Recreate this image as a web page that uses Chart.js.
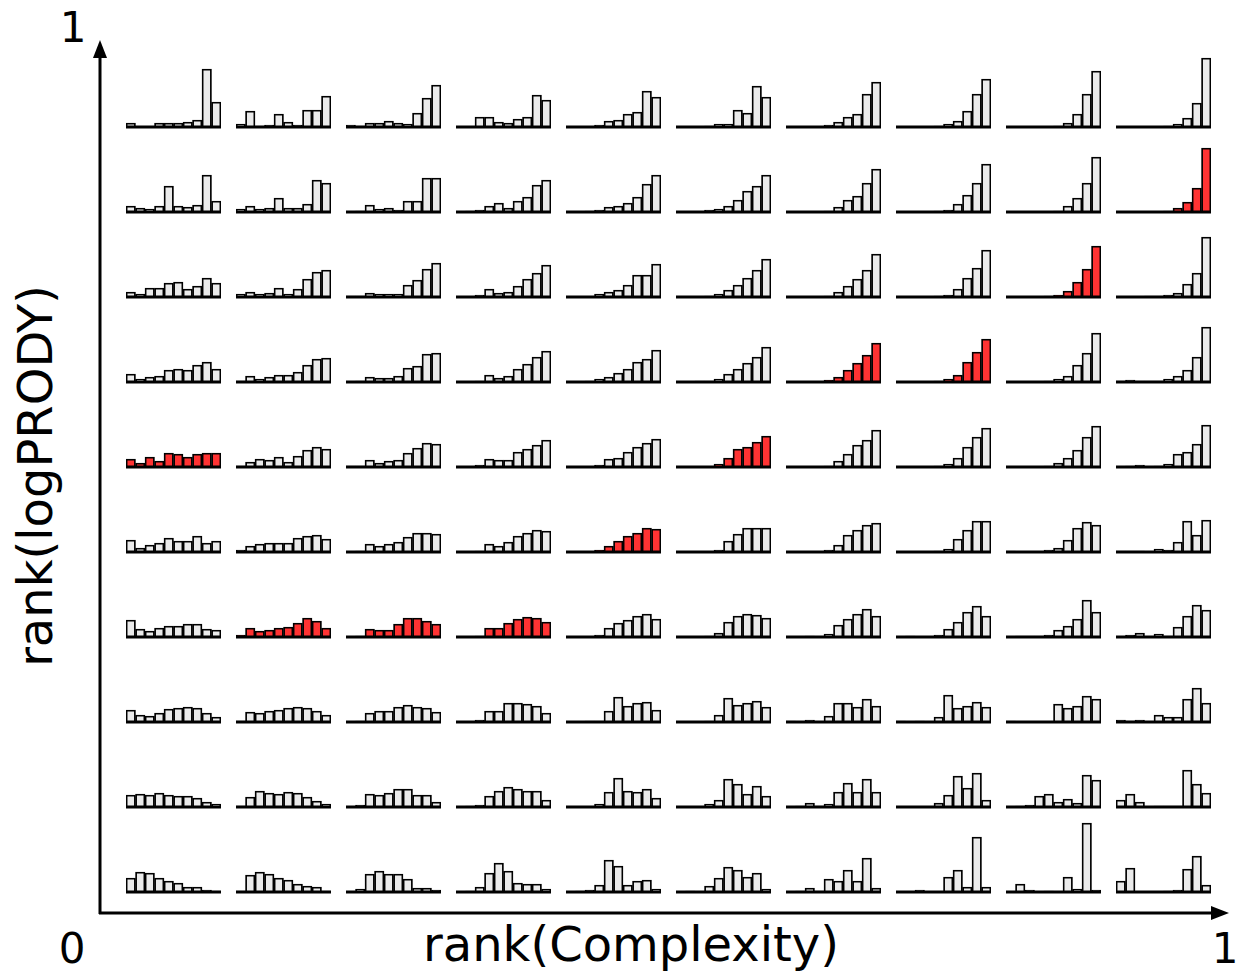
<!DOCTYPE html>
<html>
<head>
<meta charset="utf-8">
<script src="https://cdn.jsdelivr.net/npm/chart.js@4/dist/chart.umd.min.js"></script>
<style>
    html, body { margin: 0; padding: 0; background: #FFFFFF; }
    #page { position: relative; width: 1245px; height: 972px; overflow: hidden; }
    #axes { position: absolute; left: 0; top: 0; }
    .cell { position: absolute; width: 95px; height: 82px; }
</style>
</head>
<body>
<div id="page">
    <svg id="axes" width="1245" height="972" xmlns="http://www.w3.org/2000/svg">
        <line x1="100" y1="914" x2="100" y2="54" stroke="#000" stroke-width="3"/>
        <polygon points="100,40 93,58 107,58" fill="#000"/>
        <line x1="99" y1="913" x2="1214" y2="913" stroke="#000" stroke-width="3"/>
        <polygon points="1229,913 1211,906 1211,920" fill="#000"/>
        <g font-family="'DejaVu Sans', sans-serif" fill="#000">
            <text x="73" y="42" font-size="42" text-anchor="middle">1</text>
            <text x="72" y="963" font-size="42" text-anchor="middle">0</text>
            <text x="1225" y="963" font-size="42" text-anchor="middle">1</text>
            <text x="631" y="961" font-size="48" text-anchor="middle">rank(Complexity)</text>
            <text transform="translate(52,476) rotate(-90)" font-size="48" text-anchor="middle">rank(logPRODY)</text>
        </g>
    </svg>
</div>
<script>
const COLORS = {
    gray: "#EBEBEB",
    red: "#FF3333",
    edge: "#000000",
};

// histogram bins (10 per cell), 10 complexity bins per row
const BINS = ["1", "2", "3", "4", "5", "6", "7", "8", "9", "10"];

// rows listed top -> bottom (high rank(logPRODY) first)
const ROW_1 = [
    [4, 0, 0, 4, 4, 4, 5, 7, 58, 25],
    [3, 16, 1, 2, 13, 5, 2, 17, 17, 31],
    [2, 1, 4, 4, 6, 4, 3, 14, 29, 42],
    [0, 0, 10, 10, 5, 4, 8, 10, 32, 27],
    [0, 0, 0, 2, 6, 7, 13, 15, 36, 30],
    [0, 0, 0, 1, 3, 3, 17, 14, 41, 30],
    [0, 0, 0, 0, 2, 5, 10, 13, 33, 45],
    [0, 0, 0, 0, 1, 3, 6, 16, 33, 48],
    [0, 0, 0, 0, 0, 1, 4, 13, 33, 56],
    [0, 0, 0, 0, 0, 1, 3, 9, 24, 69],
];
const ROW_2 = [
    [6, 4, 3, 6, 26, 6, 5, 7, 37, 11],
    [3, 6, 3, 4, 14, 4, 4, 8, 32, 29],
    [0, 1, 7, 3, 4, 2, 11, 11, 34, 34],
    [0, 1, 2, 6, 9, 4, 11, 15, 27, 32],
    [0, 0, 1, 2, 5, 6, 9, 15, 28, 37],
    [0, 0, 0, 2, 3, 6, 12, 21, 26, 37],
    [0, 0, 0, 0, 1, 5, 12, 16, 29, 43],
    [0, 0, 0, 0, 1, 2, 8, 17, 29, 48],
    [0, 0, 0, 0, 0, 1, 6, 14, 29, 55],
    [0, 0, 0, 0, 0, 1, 4, 10, 24, 64],
];
const ROW_3 = [
    [5, 3, 9, 9, 14, 15, 8, 11, 19, 14],
    [3, 5, 3, 4, 9, 3, 8, 18, 25, 27],
    [1, 1, 4, 3, 3, 3, 12, 17, 28, 34],
    [0, 0, 2, 8, 4, 5, 11, 18, 24, 32],
    [0, 0, 0, 3, 5, 7, 12, 22, 22, 33],
    [0, 0, 0, 1, 3, 7, 12, 19, 27, 38],
    [0, 0, 0, 0, 1, 5, 11, 18, 27, 43],
    [0, 0, 0, 0, 1, 2, 8, 19, 29, 47],
    [0, 0, 0, 0, 1, 2, 6, 15, 28, 51],
    [0, 0, 0, 1, 1, 2, 4, 13, 24, 60],
];
const ROW_4 = [
    [8, 3, 5, 6, 12, 13, 12, 17, 20, 13],
    [1, 6, 3, 5, 7, 7, 10, 17, 23, 24],
    [0, 1, 5, 4, 4, 6, 14, 16, 28, 29],
    [0, 0, 1, 7, 4, 6, 13, 18, 25, 31],
    [0, 0, 1, 3, 5, 9, 13, 20, 23, 32],
    [0, 0, 1, 1, 3, 8, 13, 19, 25, 35],
    [0, 0, 0, 0, 2, 5, 12, 19, 27, 39],
    [0, 0, 0, 0, 1, 3, 7, 20, 30, 43],
    [0, 0, 0, 0, 1, 3, 6, 17, 29, 49],
    [1, 2, 1, 1, 1, 3, 6, 12, 25, 55],
];
const ROW_5 = [
    [8, 4, 10, 6, 14, 13, 10, 13, 14, 14],
    [1, 5, 8, 7, 10, 5, 11, 17, 20, 18],
    [1, 1, 7, 4, 6, 7, 14, 19, 24, 23],
    [0, 0, 2, 8, 7, 7, 15, 18, 22, 27],
    [0, 0, 0, 2, 8, 9, 15, 20, 24, 28],
    [0, 0, 0, 0, 3, 9, 18, 20, 25, 31],
    [0, 0, 0, 0, 1, 6, 13, 22, 27, 37],
    [0, 0, 0, 0, 1, 3, 9, 20, 30, 39],
    [0, 0, 0, 0, 1, 4, 9, 17, 30, 41],
    [0, 1, 2, 0, 1, 3, 13, 15, 23, 42],
];
const ROW_6 = [
    [12, 4, 7, 9, 14, 11, 11, 16, 9, 11],
    [2, 6, 8, 9, 9, 9, 14, 16, 17, 13],
    [0, 1, 8, 6, 8, 10, 15, 19, 19, 18],
    [0, 0, 1, 8, 6, 10, 16, 19, 22, 21],
    [0, 0, 0, 2, 6, 11, 16, 19, 24, 23],
    [0, 0, 0, 0, 2, 11, 18, 24, 24, 24],
    [0, 0, 0, 0, 2, 7, 17, 22, 27, 29],
    [0, 0, 0, 0, 1, 3, 13, 22, 31, 31],
    [1, 0, 0, 0, 2, 4, 12, 24, 30, 27],
    [1, 1, 1, 0, 3, 2, 10, 31, 17, 32],
];
const ROW_7 = [
    [17, 8, 6, 9, 11, 11, 13, 13, 8, 7],
    [2, 9, 6, 7, 9, 10, 14, 19, 16, 9],
    [0, 1, 8, 7, 7, 13, 19, 19, 16, 13],
    [0, 0, 1, 9, 9, 14, 18, 20, 19, 15],
    [0, 0, 0, 2, 9, 14, 17, 21, 23, 18],
    [0, 0, 0, 1, 4, 15, 21, 23, 22, 19],
    [0, 0, 1, 0, 3, 12, 18, 23, 28, 21],
    [0, 1, 0, 0, 2, 8, 15, 25, 31, 21],
    [0, 1, 1, 1, 2, 7, 11, 18, 37, 25],
    [0, 2, 4, 0, 3, 1, 10, 21, 32, 27],
];
const ROW_8 = [
    [12, 7, 6, 9, 13, 14, 15, 14, 9, 5],
    [1, 10, 9, 11, 12, 14, 15, 14, 11, 7],
    [0, 1, 9, 11, 11, 15, 17, 15, 14, 10],
    [0, 0, 2, 11, 11, 19, 19, 18, 16, 9],
    [0, 0, 1, 1, 11, 25, 16, 19, 20, 12],
    [0, 0, 0, 1, 7, 24, 17, 19, 21, 15],
    [1, 0, 2, 0, 6, 19, 19, 15, 23, 16],
    [1, 0, 1, 0, 5, 27, 14, 16, 20, 15],
    [1, 0, 0, 0, 0, 18, 14, 16, 26, 23],
    [2, 1, 2, 0, 7, 5, 5, 23, 34, 19],
];
const ROW_9 = [
    [12, 13, 12, 14, 12, 11, 11, 9, 5, 3],
    [1, 10, 16, 14, 13, 15, 14, 10, 6, 3],
    [0, 2, 13, 12, 14, 18, 18, 12, 12, 5],
    [0, 1, 2, 11, 16, 20, 18, 16, 16, 7],
    [0, 0, 0, 3, 15, 29, 16, 15, 18, 9],
    [0, 0, 0, 3, 7, 28, 23, 13, 21, 11],
    [0, 1, 4, 1, 3, 15, 24, 15, 28, 15],
    [0, 0, 0, 0, 4, 12, 31, 19, 34, 7],
    [0, 1, 2, 11, 13, 5, 8, 4, 32, 27],
    [7, 13, 5, 0, 1, 1, 1, 37, 23, 14],
];
const ROW_10 = [
    [14, 20, 19, 14, 11, 9, 5, 5, 2, 1],
    [1, 17, 20, 18, 14, 12, 8, 6, 5, 1],
    [0, 3, 18, 21, 18, 18, 13, 4, 4, 2],
    [0, 1, 5, 19, 29, 21, 9, 8, 8, 3],
    [0, 1, 2, 7, 32, 26, 7, 11, 12, 3],
    [0, 1, 0, 6, 14, 25, 22, 15, 19, 3],
    [0, 1, 4, 1, 13, 11, 22, 11, 34, 4],
    [0, 0, 2, 0, 0, 15, 22, 5, 55, 5],
    [0, 8, 2, 0, 1, 0, 15, 3, 69, 2],
    [11, 24, 0, 0, 0, 1, 2, 23, 36, 7],
];
const ROWS = [ROW_1, ROW_2, ROW_3, ROW_4, ROW_5, ROW_6, ROW_7, ROW_8, ROW_9, ROW_10];

// highlighted cells as [row, col], 0-based from top-left
const HIGHLIGHT = [
    [1, 9], [2, 8], [3, 6], [3, 7], [4, 0],
    [4, 5], [5, 4], [6, 1], [6, 2], [6, 3],
];

const Y_MAX = 80;

const baseline = {
    id: "baseline",
    afterDatasetsDraw(chart) {
        const { ctx, chartArea, scales } = chart;
        const y = scales.y.getPixelForValue(0);
        ctx.save();
        ctx.strokeStyle = COLORS.edge;
        ctx.lineWidth = 3;
        ctx.beginPath();
        ctx.moveTo(chartArea.left, y);
        ctx.lineTo(chartArea.right, y);
        ctx.stroke();
        ctx.restore();
    },
};

function isRed(r, c) {
    return HIGHLIGHT.some(h => h[0] === r && h[1] === c);
}

function createCell(r, c, values) {
    const div = document.createElement("div");
    div.className = "cell";
    div.style.left = (126 + 110 * c) + "px";
    div.style.top = (127 + 85 * r - Y_MAX) + "px";
    const canvas = document.createElement("canvas");
    canvas.width = 95;
    canvas.height = 82;
    div.appendChild(canvas);
    document.getElementById("page").appendChild(div);

    return new Chart(canvas, {
        type: "bar",
        data: {
            labels: BINS,
            datasets: [{
                data: values,
                backgroundColor: isRed(r, c) ? COLORS.red : COLORS.gray,
                borderColor: COLORS.edge,
                borderWidth: 1.8,
                borderSkipped: "start",
                barPercentage: 1,
                categoryPercentage: 1,
            }],
        },
        options: {
            responsive: false,
            animation: false,
            devicePixelRatio: 1,
            layout: { padding: { left: 0, right: 0, top: 0, bottom: 2 } },
            plugins: { legend: { display: false }, tooltip: { enabled: false } },
            scales: {
                x: { display: false },
                y: { display: false, min: 0, max: Y_MAX },
            },
        },
        plugins: [baseline],
    });
}

ROWS.forEach((row, r) => {
    row.forEach((values, c) => createCell(r, c, values));
});
</script>
</body>
</html>
